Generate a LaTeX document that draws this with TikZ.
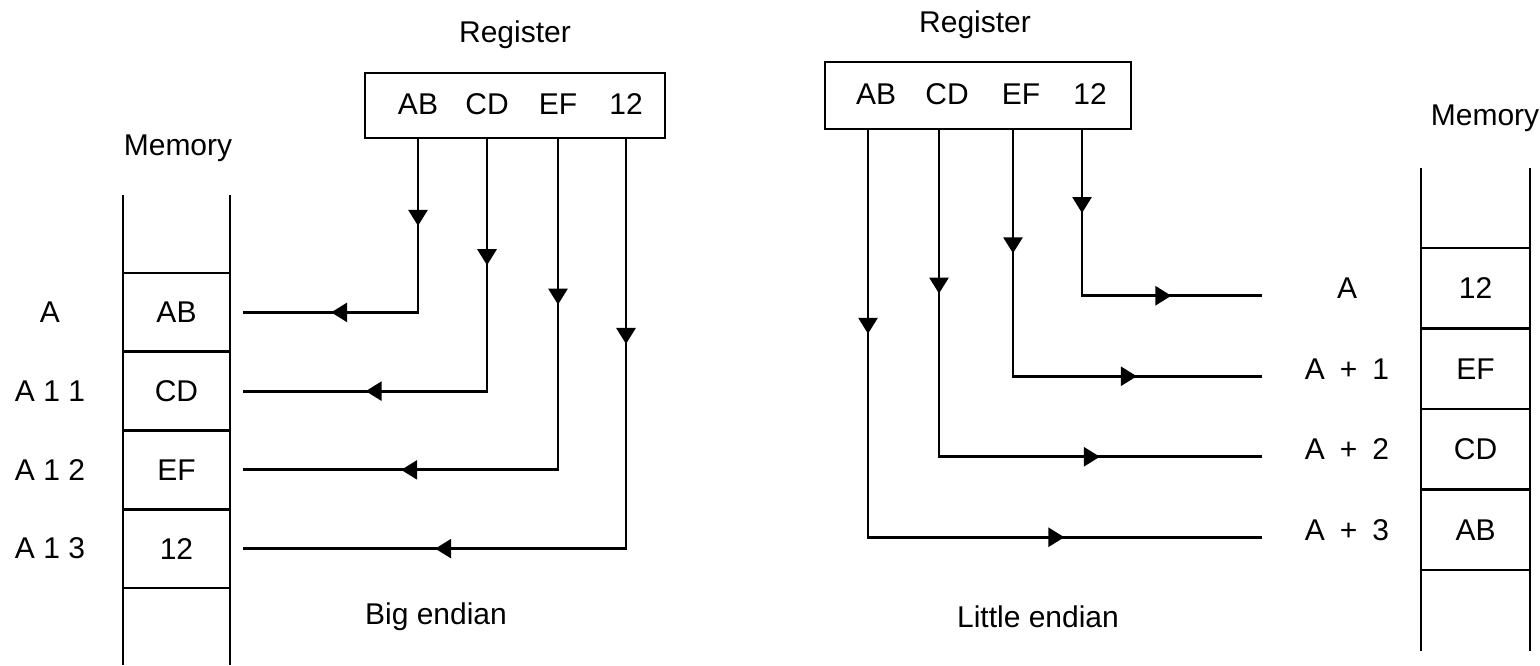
\documentclass[tikz,border=0pt]{standalone}
\usepackage{fontspec}
\setmainfont{Liberation Sans}
\usetikzlibrary{arrows.meta,decorations.markings,positioning}

\tikzset{
  wall/.style={line width=1.4pt},
  cell/.style={draw, line width=1.35pt, inner sep=0pt},
  regbox/.style={draw, line width=1.35pt, inner sep=0pt},
  wire/.style={line width=1.4pt, line cap=rect},
  midarrow/.style={postaction={decorate},
    decoration={markings, mark=at position .5 with {\arrow{>}}}},
}

\begin{document}
\begin{tikzpicture}[x=0.5pt, y=-0.5pt, >={Triangle[length=8pt,width=9.5pt]},
  font=\fontsize{15}{18}\selectfont]
\useasboundingbox (0,0) rectangle (1540,665);

% big endian
\node[regbox, minimum width=150pt, minimum height=32.5pt] (regL) at (515,105.5) {};
\node (regLtitle) at (515,35) {Register};
\foreach \x/\b in {418/AB, 487/CD, 558/EF, 626/12}
  \node (rL\b) at (\x,104) {\b};

\node (memLtitle) at (178,148) {Memory};
\draw[wall] (123,195) -- (123,665);
\draw[wall] (230,195) -- (230,665);
\foreach \b/\a [count=\i] in {AB/A, CD/A 1 1, EF/A 1 2, 12/A 1 3}
{
    \node[cell, minimum width=53.5pt, minimum height=39.4pt] (mL\i) at (176.5,273+78.75*\i-39.375) {\b};
    \node (aL\i) at ([xshift=-63.25pt]mL\i.center) {\a};
}

\foreach \b [count=\i] in {AB, CD, EF, 12}
{
    \coordinate (eL\i) at ([xshift=6.5pt]mL\i.east);
    \coordinate (kL\i) at (rL\b |- eL\i);
    \draw[wire, midarrow] (rL\b |- regL.south) -- (kL\i);
    \draw[wire, midarrow] (kL\i) -- (eL\i);
}
\node (bigE) at (436,617) {Big endian};

% little endian
\node[regbox, minimum width=153pt, minimum height=33.5pt] (regR) at (978,95.5) {};
\node (regRtitle) at (975,25) {Register};
\foreach \x/\b in {876/AB, 947/CD, 1021/EF, 1090/12}
{
    \node (rR\b) at (\x,94) {\b};
    \coordinate (tR\b) at ([xshift=-4pt]rR\b.center);
}

\node (memRtitle) at (1485,118) {Memory};
\draw[wall] (1421,168) -- (1421,651);
\draw[wall] (1530,168) -- (1530,651);
\foreach \b/\a [count=\i] in {12/A, EF/A\enspace+\enspace1, CD/A\enspace+\enspace2, AB/A\enspace+\enspace3}
{
    \node[cell, minimum width=54.5pt, minimum height=40.25pt] (mR\i) at (1475.5,248+80.5*\i-40.25) {\b};
    \node (aR\i) at ([xshift=-64.25pt]mR\i.center) {\a};
}

\foreach \b [count=\i] in {12, EF, CD, AB}
{
    \coordinate (eR\i) at ([xshift=-79.5pt, yshift=-3.75pt]mR\i.west);
    \coordinate (kR\i) at (tR\b |- eR\i);
    \draw[wire, midarrow] (tR\b |- regR.south) -- (kR\i);
    \draw[wire, midarrow] (kR\i) -- (eR\i);
}
\node (littleE) at (1038,617) {Little endian};
\end{tikzpicture}
\end{document}
